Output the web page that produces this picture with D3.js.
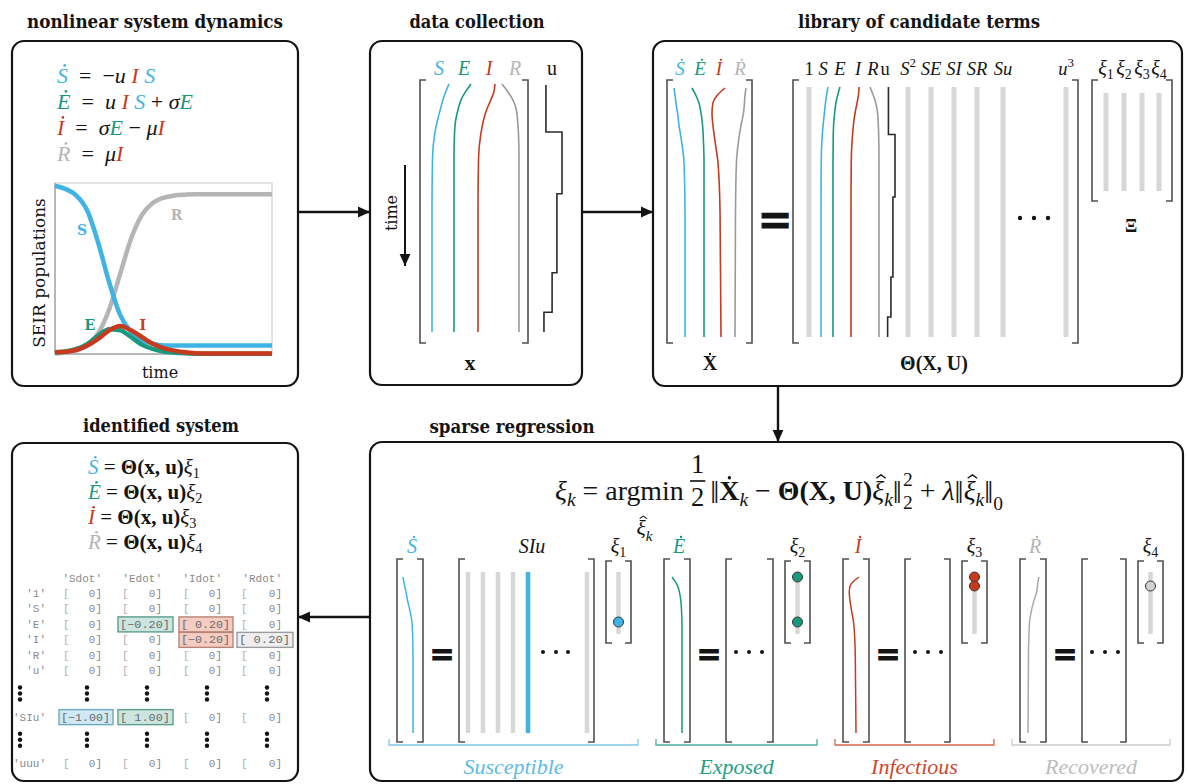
<!DOCTYPE html>
<html>
<head>
<meta charset="utf-8">
<script src="https://cdn.jsdelivr.net/npm/d3@7"></script>
<style>
  body { margin: 0; background: #fff; }
  svg { display: block; }
</style>
</head>
<body>
<div id="chart"></div>
<script>
var width = 1187;
var height = 784;

// Compartment colours
var colS = '#3fb4e4', colE = '#19987e', colI = '#c73a1e', colR = '#b5b5b5';
var ink = '#141414';
var MATH = '"Liberation Serif", "DejaVu Serif", serif';
var SERIF = '"DejaVu Serif", serif';
var MONO = '"Liberation Mono", "DejaVu Sans Mono", monospace';
var EN = '\u2002';

// SEIR populations (fraction of population)
var timeIdx = [0, 1, 2, 3, 4, 5, 6, 7, 8, 9, 10, 11, 12, 13, 14, 15, 16, 17, 18, 19, 20];
var popS = [0.99, 0.97, 0.93, 0.84, 0.65, 0.42, 0.23, 0.13, 0.08, 0.06, 0.05, 0.05, 0.05, 0.05, 0.05, 0.05, 0.05, 0.05, 0.05, 0.05, 0.05];
var popE = [0.01, 0.015, 0.03, 0.06, 0.11, 0.145, 0.14, 0.10, 0.055, 0.03, 0.015, 0.008, 0.004, 0.002, 0.002, 0.002, 0.002, 0.002, 0.002, 0.002, 0.002];
var popI = [0.01, 0.013, 0.025, 0.05, 0.09, 0.14, 0.165, 0.14, 0.10, 0.06, 0.035, 0.02, 0.01, 0.005, 0.003, 0.003, 0.003, 0.003, 0.003, 0.003, 0.003];
var popR = [0.003, 0.008, 0.021, 0.053, 0.124, 0.263, 0.47, 0.676, 0.817, 0.888, 0.919, 0.932, 0.937, 0.94, 0.94, 0.94, 0.94, 0.94, 0.94, 0.94, 0.94];

// Curve labels in the population plot (time, value)
var curveLabels = [
  { k: 'S', t: 2.5, v: 0.70 },
  { k: 'R', t: 11.2, v: 0.79 },
  { k: 'E', t: 3.2, v: 0.14 },
  { k: 'I', t: 8.1, v: 0.14 }
];

// Column traces (time runs downward), sampled at these fractions of the record
var traceT = [0, 0.03, 0.06, 0.1, 0.15, 0.2, 0.3, 0.5, 1];
var trS = [1.0, 0.81, 0.66, 0.5, 0.31, 0.16, 0.03, 0, 0];
var trE = [1.0, 0.69, 0.44, 0.25, 0.09, 0.03, 0, 0, 0];
var trI = [1.0, 0.94, 0.78, 0.53, 0.31, 0.17, 0.03, 0, 0];
var trR = [-1.0, -0.67, -0.39, -0.17, -0.08, -0.03, 0, 0, 0];
// time derivatives
var dS = [-0.92, -0.83, -0.75, -0.62, -0.5, -0.33, -0.08, 0, 0];
var dE = [-1.0, -0.67, -0.42, -0.25, -0.12, -0.06, 0, 0, 0];
var dI = [0.33, -0.33, -0.67, -0.75, -0.67, -0.54, -0.25, -0.08, 0];
var dR = [0.92, 0.83, 0.79, 0.71, 0.5, 0.33, 0.12, 0.04, 0];

// Piecewise constant control input u
var uStart = [0, 0.19, 0.44, 0.76, 0.92, 1];
var uLevel = [0.27, 1.0, 0.77, 0.55, 0.18, 0.18];

// Library of candidate terms
var libTerms = ['1', 'S', 'E', 'I', 'R', 'u', 'S2', 'SE', 'SI', 'SR', 'Su', 'u3'];

// Identified coefficients (null = ellipsis row)
var tableCols = ["'Sdot'", "'Edot'", "'Idot'", "'Rdot'"];
var tableRows = ["'1'", "'S'", "'E'", "'I'", "'R'", "'u'", null, "'SIu'", null, "'uuu'"];
var coefSdot = [0, 0, 0, 0, 0, 0, null, -1.00, null, 0];
var coefEdot = [0, 0, -0.20, 0, 0, 0, null, 1.00, null, 0];
var coefIdot = [0, 0, 0.20, -0.20, 0, 0, null, 0, null, 0];
var coefRdot = [0, 0, 0, 0.20, 0, 0, null, 0, null, 0];

var groupNames = ['Susceptible', 'Exposed', 'Infectious', 'Recovered'];

var svg = d3.select('#chart').append('svg')
    .attr('width', width)
    .attr('height', height);

svg.append('defs').append('marker')
    .attr('id', 'arrow')
    .attr('viewBox', '0 0 10 10')
    .attr('refX', 10).attr('refY', 5)
    .attr('markerWidth', 12).attr('markerHeight', 12)
    .attr('markerUnits', 'userSpaceOnUse')
    .attr('orient', 'auto')
  .append('path')
    .attr('d', 'M0,0.5L10,5L0,9.5z')
    .attr('fill', ink);

// Lay out a run of math pieces starting at x0, return the end x
function put(g, x0, y0, parts, size) {
  var cx = x0;
  parts.forEach(function(p) {
    var fs = size * (p.s || 1);
    var y = y0 + (p.dy || 0);
    var t = g.append('text')
      .attr('x', cx).attr('y', y)
      .attr('font-family', p.f || MATH)
      .attr('font-size', fs)
      .attr('font-style', p.i ? 'italic' : 'normal')
      .attr('font-weight', p.b ? 'bold' : 'normal')
      .attr('fill', p.c || ink)
      .style('white-space', 'pre')
      .text(p.t);
    var w = t.node().getComputedTextLength();
    var ax = cx + w / 2 + (p.i ? fs * 0.1 : 0);
    if (p.acc == 'dot') {
      // dot accent for time derivatives
      g.append('circle')
        .attr('cx', ax).attr('cy', y - fs * 0.8)
        .attr('r', fs * 0.06)
        .attr('fill', p.c || ink);
    } else if (p.acc == 'hat') {
      var hw = fs * 0.17, hy = y - fs * 0.78;
      g.append('path')
        .attr('d', 'M' + (ax - hw) + ',' + hy + 'L' + ax + ',' + (hy - fs * 0.12) + 'L' + (ax + hw) + ',' + hy)
        .attr('fill', 'none')
        .attr('stroke', p.c || ink)
        .attr('stroke-width', fs * 0.05);
    }
    if (!p.stay) cx += w;
  });
  return cx;
}

function math(parent, x, y, parts, size, anchor) {
  var g = parent.append('g');
  var w = put(g, 0, 0, parts, size);
  var off = anchor == 'middle' ? w / 2 : (anchor == 'end' ? w : 0);
  g.attr('transform', 'translate(' + (x - off) + ',' + y + ')');
  return g;
}

function bracket(x1, x2, y1, y2) {
  var t = 6;
  svg.append('path')
    .attr('d', 'M' + (x1 + t) + ',' + y1 + 'H' + x1 + 'V' + y2 + 'H' + (x1 + t) +
               'M' + (x2 - t) + ',' + y1 + 'H' + x2 + 'V' + y2 + 'H' + (x2 - t))
    .attr('fill', 'none')
    .attr('stroke', '#505050')
    .attr('stroke-width', 1.6);
}

function trace(values, baseX, amp, y0, y1, color, w) {
  var ty = d3.scaleLinear().domain([0, 1]).range([y0, y1]);
  var line = d3.line()
    .x(function(d) { return baseX + d * amp; })
    .y(function(d, i) { return ty(traceT[i]); })
    .curve(d3.curveMonotoneY);
  svg.append('path')
    .attr('d', line(values))
    .attr('fill', 'none')
    .attr('stroke', color)
    .attr('stroke-width', w || 1.6);
}

function staircase(baseX, amp, y0, y1) {
  var ty = d3.scaleLinear().domain([0, 1]).range([y0, y1]);
  var line = d3.line()
    .x(function(d) { return baseX + d * amp; })
    .y(function(d, i) { return ty(uStart[i]); })
    .curve(d3.curveStepBefore);
  svg.append('path')
    .attr('d', line(uLevel))
    .attr('fill', 'none')
    .attr('stroke', '#2a2a2a')
    .attr('stroke-width', 1.6);
}

function grayCol(x, y0, y1, w, color) {
  svg.append('line')
    .attr('x1', x).attr('x2', x).attr('y1', y0).attr('y2', y1)
    .attr('stroke', color || '#d7d7d7')
    .attr('stroke-width', w || 5);
}

function bigEquals(x, y, size) {
  svg.append('text')
    .attr('x', x).attr('y', y)
    .attr('text-anchor', 'middle')
    .attr('font-family', '"DejaVu Sans", sans-serif')
    .attr('font-weight', 'bold')
    .attr('font-size', size)
    .attr('fill', ink)
    .attr('stroke', ink).attr('stroke-width', 0.8)
    .text('=');
}

function hdots(xs, y, r) {
  xs.forEach(function(x) {
    svg.append('circle').attr('cx', x).attr('cy', y).attr('r', r || 2).attr('fill', ink);
  });
}

// ---- Panels and titles
var panels = [
  { x: 12, y: 41, w: 286, h: 345, title: 'nonlinear system dynamics', tx: 155, ty: 28, tw: 256 },
  { x: 370, y: 41, w: 212, h: 344, title: 'data collection', tx: 477, ty: 28, tw: 135 },
  { x: 653, y: 41, w: 529, h: 345, title: 'library of candidate terms', tx: 919, ty: 28, tw: 242 },
  { x: 12, y: 443, w: 286, h: 338, title: 'identified system', tx: 161, ty: 432, tw: 156 },
  { x: 370, y: 442, w: 813, h: 339, title: 'sparse regression', tx: 512, ty: 433, tw: 165 }
];

panels.forEach(function(p) {
  svg.append('rect')
    .attr('x', p.x).attr('y', p.y).attr('width', p.w).attr('height', p.h)
    .attr('rx', 12)
    .attr('fill', '#fff')
    .attr('stroke', ink)
    .attr('stroke-width', 2.2);
  svg.append('text')
    .attr('x', p.tx).attr('y', p.ty)
    .attr('text-anchor', 'middle')
    .attr('font-family', SERIF)
    .attr('font-weight', 'bold')
    .attr('font-size', 18)
    .attr('textLength', p.tw)
    .attr('lengthAdjust', 'spacingAndGlyphs')
    .attr('fill', ink)
    .text(p.title);
});

// ---- Arrows between panels
var arrows = [
  [298, 212, 370, 212],
  [582, 212, 653, 212],
  [778, 386, 778, 442],
  [370, 617, 298, 617]
];
arrows.forEach(function(a) {
  svg.append('line')
    .attr('x1', a[0]).attr('y1', a[1]).attr('x2', a[2]).attr('y2', a[3])
    .attr('stroke', ink).attr('stroke-width', 2.4)
    .attr('marker-end', 'url(#arrow)');
});

// ---- Panel 1: equations
var eqSize = 22;
var eqLines = [
  [{ t: 'S', i: 1, c: colS, acc: 'dot' }, { t: EN + '=' + EN + '\u2212' }, { t: 'u', i: 1 }, { t: ' ' }, { t: 'I', i: 1, c: colI }, { t: ' ' }, { t: 'S', i: 1, c: colS }],
  [{ t: 'E', i: 1, c: colE, acc: 'dot' }, { t: EN + '=' + EN }, { t: 'u', i: 1 }, { t: ' ' }, { t: 'I', i: 1, c: colI }, { t: ' ' }, { t: 'S', i: 1, c: colS }, { t: ' + ' }, { t: '\u03C3', i: 1 }, { t: 'E', i: 1, c: colE }],
  [{ t: 'I', i: 1, c: colI, acc: 'dot' }, { t: EN + '=' + EN }, { t: '\u03C3', i: 1 }, { t: 'E', i: 1, c: colE }, { t: ' \u2212 ' }, { t: '\u03BC', i: 1 }, { t: 'I', i: 1, c: colI }],
  [{ t: 'R', i: 1, c: colR, acc: 'dot' }, { t: EN + '=' + EN }, { t: '\u03BC', i: 1 }, { t: 'I', i: 1, c: colI }]
];
eqLines.forEach(function(parts, k) {
  math(svg, 57, 83 + k * 26, parts, eqSize);
});

// ---- Panel 1: population plot
var xT = d3.scaleLinear().domain([0, 20]).range([55, 272]);
var yP = d3.scaleLinear().domain([0, 1]).range([354, 184]);

svg.append('rect')
  .attr('x', 55).attr('y', 183).attr('width', 217).attr('height', 171)
  .attr('fill', 'none').attr('stroke', '#c8c8c8').attr('stroke-width', 1);
svg.append('line').attr('x1', 55).attr('x2', 55).attr('y1', 183).attr('y2', 354)
  .attr('stroke', '#8a8a8a').attr('stroke-width', 1);
svg.append('line').attr('x1', 55).attr('x2', 272).attr('y1', 354).attr('y2', 354)
  .attr('stroke', '#8a8a8a').attr('stroke-width', 1);

var popLine = d3.line()
  .x(function(d, i) { return xT(timeIdx[i]); })
  .y(function(d) { return yP(d); })
  .curve(d3.curveMonotoneX);

[[popR, colR], [popS, colS], [popE, colE], [popI, colI]].forEach(function(s) {
  svg.append('path')
    .attr('d', popLine(s[0]))
    .attr('fill', 'none')
    .attr('stroke', s[1])
    .attr('stroke-width', 4.5);
});

var labCol = { S: colS, E: colE, I: colI, R: colR };
curveLabels.forEach(function(d) {
  svg.append('text')
    .attr('x', xT(d.t)).attr('y', yP(d.v))
    .attr('text-anchor', 'middle')
    .attr('font-family', SERIF)
    .attr('font-weight', 'bold')
    .attr('font-size', 14)
    .attr('fill', labCol[d.k])
    .text(d.k);
});

svg.append('text')
  .attr('transform', 'translate(45,273) rotate(-90)')
  .attr('text-anchor', 'middle')
  .attr('font-family', SERIF)
  .attr('font-size', 17)
  .attr('fill', ink)
  .text('SEIR populations');
svg.append('text')
  .attr('x', 160).attr('y', 378)
  .attr('text-anchor', 'middle')
  .attr('font-family', SERIF)
  .attr('font-size', 16)
  .attr('fill', ink)
  .text('time');

// ---- Panel 2: data collection
bracket(420, 528, 80, 343);
math(svg, 439, 75, [{ t: 'S', i: 1, c: colS }], 20, 'middle');
math(svg, 464, 75, [{ t: 'E', i: 1, c: colE }], 20, 'middle');
math(svg, 489, 75, [{ t: 'I', i: 1, c: colI }], 20, 'middle');
math(svg, 515, 75, [{ t: 'R', i: 1, c: colR }], 20, 'middle');
math(svg, 552, 75, [{ t: 'u' }], 20, 'middle');

trace(trS, 432, 17, 84, 332, colS);
trace(trE, 454, 17, 84, 332, colE);
trace(trI, 478, 17, 84, 332, colI);
trace(trR, 519, 17, 84, 332, '#9a9a9a');
staircase(540, 22, 85, 332);

svg.append('line')
  .attr('x1', 405).attr('y1', 165).attr('x2', 405).attr('y2', 266)
  .attr('stroke', ink).attr('stroke-width', 2)
  .attr('marker-end', 'url(#arrow)');
svg.append('text')
  .attr('transform', 'translate(397,213) rotate(-90)')
  .attr('text-anchor', 'middle')
  .attr('font-family', SERIF)
  .attr('font-size', 16)
  .attr('fill', ink)
  .text('time');
math(svg, 470, 370, [{ t: 'x', b: 1 }], 22, 'middle');

// ---- Panel 3: library of candidate terms
bracket(667, 752, 80, 343);
math(svg, 680, 75, [{ t: 'S', i: 1, c: colS, acc: 'dot' }], 19, 'middle');
math(svg, 700, 75, [{ t: 'E', i: 1, c: colE, acc: 'dot' }], 19, 'middle');
math(svg, 719, 75, [{ t: 'I', i: 1, c: colI, acc: 'dot' }], 19, 'middle');
math(svg, 740, 75, [{ t: 'R', i: 1, c: colR, acc: 'dot' }], 19, 'middle');
trace(dS, 685, 12, 88, 337, colS);
trace(dE, 704, 12, 88, 337, colE);
trace(dI, 721, 12, 88, 337, colI);
trace(dR, 735, 12, 88, 337, '#9a9a9a');
math(svg, 710, 370, [{ t: 'X', b: 1, acc: 'dot' }], 20, 'middle');

bigEquals(775, 234, 42);

bracket(793, 1078, 80, 343);
var libX = [809, 823, 840, 858, 873, 885, 908, 931, 954, 977, 1003, 1066];
var libHeader = {
  '1': [{ t: '1' }],
  'S': [{ t: 'S', i: 1 }], 'E': [{ t: 'E', i: 1 }], 'I': [{ t: 'I', i: 1 }], 'R': [{ t: 'R', i: 1 }],
  'u': [{ t: 'u' }],
  'S2': [{ t: 'S', i: 1 }, { t: '2', s: 0.7, dy: -8 }],
  'SE': [{ t: 'SE', i: 1 }], 'SI': [{ t: 'SI', i: 1 }], 'SR': [{ t: 'SR', i: 1 }], 'Su': [{ t: 'Su', i: 1 }],
  'u3': [{ t: 'u', i: 1 }, { t: '3', s: 0.7, dy: -8 }]
};
libTerms.forEach(function(term, k) {
  math(svg, libX[k], 75, libHeader[term], 18.5, 'middle');
  if (['S', 'E', 'I', 'R', 'u'].indexOf(term) < 0) grayCol(libX[k], 87, 337, 5);
});
trace(trS, 821, 7, 87, 337, colS);
trace(trE, 833, 7, 87, 337, colE);
trace(trI, 851, 8, 87, 337, colI);
trace(trR, 879, 9, 87, 337, '#9a9a9a');
staircase(886, 9, 87, 337);
hdots([1020, 1034, 1048], 218, 2.2);
math(svg, 934, 370, [{ t: '\u0398(X, U)', b: 1 }], 20, 'middle');

bracket(1092, 1172, 80, 201);
var xiX = [1106, 1124, 1142, 1159];
xiX.forEach(function(x, k) {
  grayCol(x, 93, 191, 5);
  math(svg, x, 75, [{ t: '\u03BE', i: 1 }, { t: String(k + 1), s: 0.7, dy: 4 }], 20, 'middle');
});
math(svg, 1131, 232, [{ t: '\u039E', b: 1 }], 18, 'middle');

// ---- Panel 4: identified system
var idLines = [[colS, 'S'], [colE, 'E'], [colI, 'I'], [colR, 'R']];
idLines.forEach(function(d, k) {
  math(svg, 88, 474 + k * 25, [
    { t: d[1], i: 1, c: d[0], acc: 'dot' }, { t: ' = ' }, { t: '\u0398(x, u)', b: 1 },
    { t: '\u03BE', i: 1 }, { t: String(k + 1), s: 0.68, dy: 4 }
  ], 21);
});

var colL = [63, 122, 183, 241];
var colRt = [102, 162, 222, 282];
var rowPos = [0, 1, 2, 3, 4, 5, 6.5, 8, 9.5, 11];
var rowY = d3.scaleLinear().domain([0, 11]).range([597, 767]);
var coefs = [coefSdot, coefEdot, coefIdot, coefRdot];
var hiFill = ['#cfe8f3', '#cce6df', '#f4ccc2', '#eeeeee'];
var hiStroke = ['#6fa9bf', '#5f9d8f', '#b98478', '#9c9c9c'];
var fmt = d3.format('.2f');
var tab = svg.append('g').attr('font-family', MONO).attr('font-size', 11);

tableCols.forEach(function(c, j) {
  tab.append('text').attr('x', colRt[j]).attr('y', 582)
    .attr('text-anchor', 'end').attr('fill', '#8a8a8a').text(c);
});

tableRows.forEach(function(r, i) {
  var y = rowY(rowPos[i]);
  if (r === null) {
    [20].concat(colRt.map(function(x) { return x - 15; })).forEach(function(x) {
      [-6, 0, 6].forEach(function(o) {
        svg.append('circle').attr('cx', x).attr('cy', y - 4 + o).attr('r', 2.2).attr('fill', ink);
      });
    });
    return;
  }
  tab.append('text').attr('x', 46).attr('y', y)
    .attr('text-anchor', 'end').attr('fill', '#8a8a8a').text(r);
  coefs.forEach(function(col, j) {
    var v = col[i];
    if (v === 0) {
      tab.append('text').attr('x', colL[j]).attr('y', y).attr('fill', '#b0b0b0').text('[');
      tab.append('text').attr('x', colRt[j]).attr('y', y)
        .attr('text-anchor', 'end').attr('fill', '#8a8a8a').text('0]');
    } else {
      tab.append('rect')
        .attr('x', colL[j] - 4).attr('y', y - 11)
        .attr('width', colRt[j] - colL[j] + 15).attr('height', 15)
        .attr('fill', hiFill[j]).attr('stroke', hiStroke[j]).attr('stroke-width', 1.4);
      tab.append('text')
        .attr('x', colL[j] - 2).attr('y', y)
        .attr('textLength', colRt[j] - colL[j] + 10)
        .attr('lengthAdjust', 'spacingAndGlyphs')
        .attr('fill', '#6a6a6a')
        .style('white-space', 'pre')
        .text('[' + (v < 0 ? '' : ' ') + fmt(v) + ']');
    }
  });
});

// ---- Panel 5: sparse regression equation
var eq = svg.append('g');
var cx = put(eq, 0, 0, [{ t: '\u03BE', i: 1 }, { t: 'k', i: 1, s: 0.7, dy: 5 }, { t: ' = ' }], 22);
var a0 = cx;
cx = put(eq, cx, 0, [{ t: 'argmin' }], 22);
math(eq, (a0 + cx) / 2, 28, [{ t: '\u03BE', i: 1, acc: 'hat' }, { t: 'k', i: 1, s: 0.7, dy: 4 }], 17, 'middle');
cx += 4;
eq.append('text').attr('x', cx + 7).attr('y', -21).attr('text-anchor', 'middle')
  .attr('font-family', MATH).attr('font-size', 21).attr('fill', ink).text('1');
eq.append('line').attr('x1', cx + 1).attr('x2', cx + 13).attr('y1', -15).attr('y2', -15)
  .attr('stroke', ink).attr('stroke-width', 1.3);
eq.append('text').attr('x', cx + 7).attr('y', 5).attr('text-anchor', 'middle')
  .attr('font-family', MATH).attr('font-size', 21).attr('fill', ink).text('2');
cx += 17;
cx = put(eq, cx, 0, [
  { t: '\u2016', s: 1.15, dy: 2 }, { t: 'X', b: 1, acc: 'dot' }, { t: 'k', i: 1, s: 0.7, dy: 5 },
  { t: ' \u2212 ' }, { t: '\u0398(X, U)', b: 1 }, { t: '\u03BE', i: 1, acc: 'hat' },
  { t: 'k', i: 1, s: 0.7, dy: 5 }, { t: '\u2016', s: 1.15, dy: 2 }
], 22);
put(eq, cx + 1, 0, [{ t: '2', s: 0.7, dy: -11, stay: 1 }], 22);
cx = put(eq, cx + 1, 0, [{ t: '2', s: 0.7, dy: 7 }], 22);
cx = put(eq, cx, 0, [
  { t: ' + ' }, { t: '\u03BB', i: 1 }, { t: '\u2016', s: 1.15, dy: 2 }, { t: '\u03BE', i: 1, acc: 'hat' },
  { t: 'k', i: 1, s: 0.7, dy: 5 }, { t: '\u2016', s: 1.15, dy: 2 }, { t: '0', s: 0.7, dy: 8 }
], 22);
var eqScale = 448 / cx;
eq.attr('transform', 'translate(555,500) scale(' + eqScale + ')');

// ---- Panel 5: one block per compartment
var groups = [
  { x0: 397, tw: 135, color: colS, brace: '#7ec8e6', txt: '#5bbce6', key: 'S', trace: dS, base: 16, amp: 11, dot: colS, coef: coefSdot },
  { x0: 664, tw: 47, color: colE, brace: '#4fae9b', txt: '#23a088', key: 'E', trace: dE, base: 18, amp: 10, dot: colE, coef: coefEdot },
  { x0: 843, tw: 45, color: colI, brace: '#d7664c', txt: '#d2452a', key: 'I', trace: dI, base: 13, amp: 9, dot: colI, coef: coefIdot },
  { x0: 1020, tw: 44, color: colR, brace: '#cdcdcd', txt: '#bdbdbd', key: 'R', trace: dR, base: 8, amp: 12, dot: '#d2d2d2', coef: coefRdot }
];
var xiY = d3.scaleLinear().domain([0, tableRows.length - 1]).range([559, 640]);
var sparseCols = d3.scalePoint().domain(['1', 'S', 'E', 'I', 'SIu']);

groups.forEach(function(g, k) {
  var sL = g.x0, sR = g.x0 + 26;
  var tL = g.x0 + 62, tR = tL + g.tw;
  var xL = tR + 12, xR = xL + 25, xC = xL + 12.5;

  bracket(sL, sR, 559, 742);
  math(svg, (sL + sR) / 2 + 2, 553, [{ t: g.key, i: 1, c: g.color, acc: 'dot' }], 20, 'middle');
  trace(g.trace, sL + g.base, g.amp, 577, 733, g.key == 'R' ? '#a8a8a8' : g.color, 1.5);

  bigEquals(g.x0 + 45, 664, 30);

  bracket(tL, tR, 559, 742);
  if (k == 0) {
    sparseCols.range([tL + 9, tL + 69]);
    sparseCols.domain().forEach(function(c) {
      grayCol(sparseCols(c), 572, 733, 4.5, c == 'SIu' ? colS : '#d7d7d7');
    });
    grayCol(tR - 7, 572, 733, 4.5);
    hdots([tL + 84, tL + 97, tL + 109], 652, 2);
    math(svg, sparseCols('SIu') + 4, 553, [{ t: 'SIu', i: 1 }], 20, 'middle');
  } else {
    hdots([tL + 10, tL + 23, tL + 36], 652, 2);
  }

  bracket(xL, xR, 561, 643);
  grayCol(xC, 572, 634, 4.5);
  g.coef.forEach(function(v, i) {
    if (v) {
      svg.append('circle')
        .attr('cx', xC).attr('cy', xiY(i)).attr('r', 5)
        .attr('fill', g.dot).attr('stroke', '#333').attr('stroke-width', 1);
    }
  });
  math(svg, xC, 553, [{ t: '\u03BE', i: 1 }, { t: String(k + 1), s: 0.7, dy: 4 }], 20, 'middle');

  var b0 = g.x0 - 8, b1 = xR + 7;
  svg.append('path')
    .attr('d', 'M' + b0 + ',739V745H' + b1 + 'V739')
    .attr('fill', 'none').attr('stroke', g.brace).attr('stroke-width', 1.3);
  svg.append('text')
    .attr('x', (b0 + b1) / 2).attr('y', 774)
    .attr('text-anchor', 'middle')
    .attr('font-family', MATH)
    .attr('font-style', 'italic')
    .attr('font-size', 22)
    .attr('fill', g.txt)
    .text(groupNames[k]);
});
</script>
</body>
</html>
